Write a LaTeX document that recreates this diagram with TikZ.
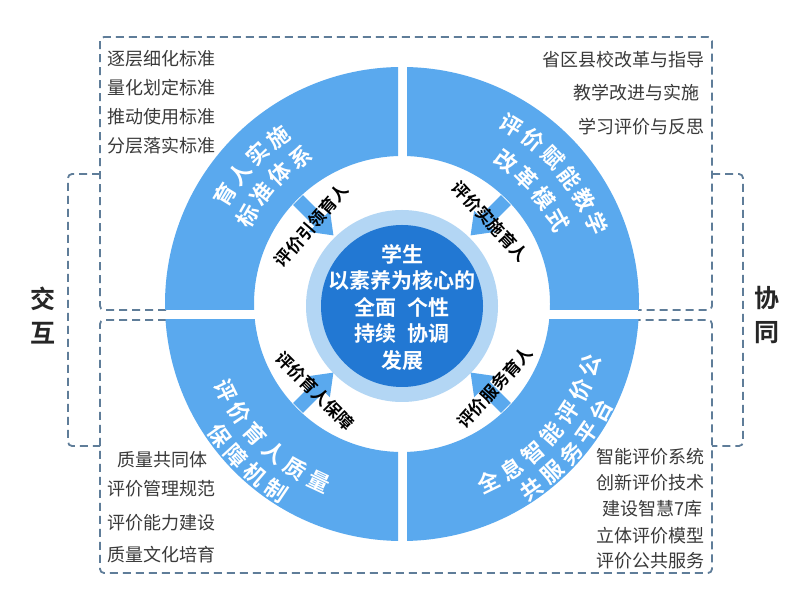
\documentclass[tikz,border=0pt]{standalone}
\usepackage{fontspec}
\setmainfont{Noto Sans CJK SC}[BoldFont={Noto Sans CJK SC Bold}]
\usetikzlibrary{calc}
\definecolor{ringblue}{HTML}{5AA9EE}
\definecolor{darkblue}{HTML}{2278D3}
\definecolor{haloblue}{HTML}{B3D6F4}
\definecolor{dashc}{HTML}{5F7D99}
\definecolor{txtgray}{HTML}{3A3A3A}
\tikzset{
  dashbox/.style={draw=dashc, line width=1.8pt, dash pattern=on 8pt off 5pt, rounded corners=4pt},
  listtxt/.style={font=\fontsize{18}{20}\selectfont, text=txtgray, inner sep=0pt},
  ringtxt/.style={font=\bfseries\fontsize{22}{24}\selectfont, text=white, inner sep=0pt},
  arrtxt/.style={font=\bfseries\fontsize{17}{19}\selectfont, text=black, inner sep=0pt},
  sidetxt/.style={font=\bfseries\fontsize{25}{27}\selectfont, text=black!85, inner sep=0pt},
  centertxt/.style={font=\bfseries\fontsize{21}{26.5}\selectfont, text=white, align=center, inner sep=0pt},
  arrowshape/.style={fill=ringblue}
}
\newcommand\ArcTxt[7]{%
  \foreach \ch [count=\i] in {#7} {
    \pgfmathsetmacro\ang{#3+#4*(\i-(#6+1)/2)*26.5/#2*57.29578}
    \node[ringtxt, rotate=\ang+#5] (#1\i) at ([shift={(\ang:#2)}]C) {\ch};
  }%
}
\begin{document}
\begin{tikzpicture}[x=1pt,y=1pt]
\useasboundingbox (0,0) rectangle (800,596);
\fill[white] (0,0) rectangle (800,596);
\coordinate (C) at (402,292);
\coordinate (CC) at (402,290);

% dashed frames
\draw[dashbox] (166,286) -- (100,286) -- (100,559) -- (712,559) -- (712,286) -- (638,286);
\draw[dashbox] (166,276) -- (100,276) -- (100,23) -- (712,23) -- (712,276) -- (638,276);
\draw[dashbox] (100,422) -- (68,422) -- (68,150) -- (100,150);
\draw[dashbox] (712,422) -- (743,422) -- (743,150) -- (712,150);

% ring quadrants
\begin{scope}
  \clip (0,286) rectangle (398,596);
  \fill[ringblue, even odd rule] (C) circle (237pt) (C) circle (148pt);
\end{scope}
\begin{scope}
  \clip (407,286) rectangle (800,596);
  \fill[ringblue, even odd rule] (C) circle (237pt) (C) circle (148pt);
\end{scope}
\begin{scope}
  \clip (0,0) rectangle (398,276);
  \fill[ringblue, even odd rule] (C) circle (237pt) (C) circle (148pt);
\end{scope}
\begin{scope}
  \clip (407,0) rectangle (800,276);
  \fill[ringblue, even odd rule] (C) circle (237pt) (C) circle (148pt);
\end{scope}

% centre
\fill[haloblue] (CC) circle (96pt);
\fill[darkblue] (CC) circle (81pt);
\node[centertxt] (ctr) at (402,289) {学生\\以素养为核心的\\全面\hspace{0.5em}个性\\持续\hspace{0.5em}协调\\发展};

% arrows
\foreach \a in {135,45,225,315} {
  \fill[arrowshape, shift={(C)}, rotate=\a] (147,-7) -- (117,-7) -- (117,-15) -- (97,0) -- (117,15) -- (117,7) -- (147,7) -- cycle;
}
\node[arrtxt, rotate=49] (lab1) at ([shift={(139:120)}]C) {评价引领育人};
\node[arrtxt, rotate=-47] (lab2) at ([shift={(43:121)}]C) {评价实施育人};
\node[arrtxt, rotate=-45] (lab3) at ([shift={(225:123)}]C) {评价育人保障};
\node[arrtxt, rotate=48] (lab4) at ([shift={(318:125)}]C) {评价服务育人};

% ring labels
\ArcTxt{tla}{208}{137.5}{-1}{-90}{4}{育,人,实,施}
\ArcTxt{tlb}{178}{137.5}{-1}{-90}{4}{标,准,体,系}
\ArcTxt{tra}{210}{40.5}{-1}{-90}{6}{评,价,赋,能,教,学}
\ArcTxt{trb}{177}{41}{-1}{-90}{4}{改,革,模,式}
\ArcTxt{bla}{196}{225.5}{1}{90}{6}{评,价,育,人,质,量}
\ArcTxt{blb}{225}{226}{1}{90}{4}{保,障,机,制}
\ArcTxt{bra}{198}{319}{1}{90}{7}{全,息,智,能,评,价,公}
\ArcTxt{brb}{226}{318.5}{1}{90}{5}{共,服,务,平,台}

% lists
\node[listtxt, anchor=west] (tl1) at (107,537.7) {逐层细化标准};
\node[listtxt, anchor=west] (tl2) at (107,508.7) {量化划定标准};
\node[listtxt, anchor=west] (tl3) at (107,479.3) {推动使用标准};
\node[listtxt, anchor=west] (tl4) at (107,450.3) {分层落实标准};

\node[listtxt, anchor=east] (tr1) at (705,536) {省区县校改革与指导};
\node[listtxt, anchor=east] (tr2) at (700,503) {教学改进与实施};
\node[listtxt, anchor=east] (tr3) at (705,469) {学习评价与反思};

\node[listtxt, anchor=west] (bl1) at (117,136.7) {质量共同体};
\node[listtxt, anchor=west] (bl2) at (107,107.3) {评价管理规范};
\node[listtxt, anchor=west] (bl3) at (107,73.3) {评价能力建设};
\node[listtxt, anchor=west] (bl4) at (107,41.7) {质量文化培育};

\node[listtxt, anchor=east] (br1) at (705,139.3) {智能评价系统};
\node[listtxt, anchor=east] (br2) at (705,113.3) {创新评价技术};
\node[listtxt, anchor=east] (br3) at (703,87.3) {建设智慧7库};
\node[listtxt, anchor=east] (br4) at (705,60.7) {立体评价模型};
\node[listtxt, anchor=east] (br5) at (705,35) {评价公共服务};

% side labels
\node[sidetxt] (jiao) at (43,297) {交};
\node[sidetxt] (hu) at (43,263) {互};
\node[sidetxt] (xie) at (767,298) {协};
\node[sidetxt] (tong) at (767,263) {同};
\end{tikzpicture}
\end{document}
